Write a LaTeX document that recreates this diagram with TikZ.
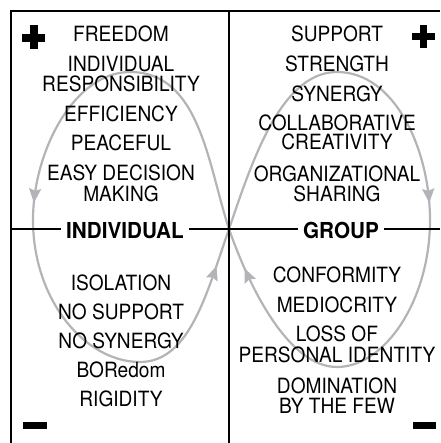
\documentclass[tikz,border=0pt]{standalone}
\usepackage{fontspec}
\usetikzlibrary{arrows.meta,decorations.markings}
\newfontfamily\condfont{TeX Gyre Heros}[FakeStretch=0.91]
\newfontfamily\condbold{TeX Gyre Heros}[FakeStretch=0.94]
\definecolor{loopgray}{RGB}{178,180,184}
\tikzset{
  txt/.style={font=\condfont\fontsize{21}{20}\selectfont, anchor=base, inner sep=0pt},
  lab/.style={font=\condbold\bfseries\fontsize{22}{22}\selectfont, anchor=base, inner xsep=5pt, inner ysep=0pt},
  frameline/.style={draw=black, line width=2.8pt},
  loopline/.style={draw=loopgray, line width=2.2pt},
  looptip/.style={postaction={decorate}, decoration={markings, mark=at position #1 with {\arrow{Stealth[length=14pt,width=12pt,inset=2pt]}}}},
  signfill/.style={fill=black, draw=none},
}
\begin{document}
\begin{tikzpicture}[x=1pt, y=-1pt]
\useasboundingbox (0,0) rectangle (440,443);
% coordinates
\coordinate (C) at (229,229);
\coordinate (TL) at (11,11);
\coordinate (TR) at (440,11);
\coordinate (BL) at (11,443);
\coordinate (TM) at (229,11);
\coordinate (BM) at (229,443);
\coordinate (HL) at (11,229);
\coordinate (HR) at (440,229);
\coordinate (LT) at (130,72);
\coordinate (LM) at (33,220);
\coordinate (LB) at (140,362);
\coordinate (RT) at (337,72);
\coordinate (RM) at (430,220);
\coordinate (RB) at (337,367);
% gray figure-eight loop
\draw[loopline] (C) .. controls (208,165) and (200,72) .. (LT);
\draw[loopline, looptip=0.91] (LT) .. controls (75,72) and (33,150) .. (LM);
\draw[loopline] (LM) .. controls (33,300) and (85,362) .. (LB);
\draw[loopline, looptip=0.77] (LB) .. controls (190,362) and (207,292) .. (C);
\draw[loopline] (C) .. controls (251,165) and (280,72) .. (RT);
\draw[loopline, looptip=0.91] (RT) .. controls (395,72) and (430,150) .. (RM);
\draw[loopline] (RM) .. controls (430,300) and (385,367) .. (RB);
\draw[loopline, looptip=0.77] (RB) .. controls (290,367) and (251,292) .. (C);
% frame
\draw[frameline] (TR) -- (TL) -- (BL);
\draw[frameline] (TM) -- (BM);
% axis labels
\node[lab] (indiv) at (125,238) {INDIVIDUAL};
\node[lab] (group) at (341,238) {GROUP};
\draw[frameline] (HL) -- (HL -| indiv.west);
\draw[frameline] (indiv.east |- C) -- (group.west |- C);
\draw[frameline] (group.east |- C) -- (HR);
% signs (plus and minus as filled bars)
\fill[signfill] (22,34.2) rectangle (45,41.8);
\fill[signfill] (30.2,25) rectangle (37.8,49);
\fill[signfill] (411.7,32.9) rectangle (435,40.5);
\fill[signfill] (419.7,25) rectangle (427.3,48.5);
\fill[signfill] (22.7,421.5) rectangle (46.7,428.5);
\fill[signfill] (412.7,421.5) rectangle (436,428.5);
% top-left texts
\node[txt] (a1) at (121,42) {FREEDOM};
\node[txt] (a2) at (121,72) {INDIVIDUAL};
\node[txt] (a3) at (121,92) {RESPONSIBILITY};
\node[txt] (a4) at (121,122) {EFFICIENCY};
\node[txt] (a5) at (121,151) {PEACEFUL};
\node[txt] (a6) at (121,181) {EASY DECISION};
\node[txt] (a7) at (121,201) {MAKING};
% top-right texts
\node[txt] (b1) at (337,42) {SUPPORT};
\node[txt] (b2) at (337,72) {STRENGTH};
\node[txt] (b3) at (337,102) {SYNERGY};
\node[txt] (b4) at (337,131) {COLLABORATIVE};
\node[txt] (b5) at (337,150) {CREATIVITY};
\node[txt] (b6) at (337,182) {ORGANIZATIONAL};
\node[txt] (b7) at (337,202) {SHARING};
% bottom-left texts
\node[txt] (c1) at (121,290) {ISOLATION};
\node[txt] (c2) at (121,319) {NO SUPPORT};
\node[txt] (c3) at (121,348) {NO SYNERGY};
\node[txt] (c4) at (121,377) {BORedom};
\node[txt] (c5) at (121,406) {RIGIDITY};
% bottom-right texts
\node[txt] (d1) at (337,282) {CONFORMITY};
\node[txt] (d2) at (337,312) {MEDIOCRITY};
\node[txt] (d3) at (337,341) {LOSS OF};
\node[txt] (d4) at (337,362) {PERSONAL IDENTITY};
\node[txt] (d5) at (337,393) {DOMINATION};
\node[txt] (d6) at (337,413) {BY THE FEW};
\end{tikzpicture}
\end{document}
